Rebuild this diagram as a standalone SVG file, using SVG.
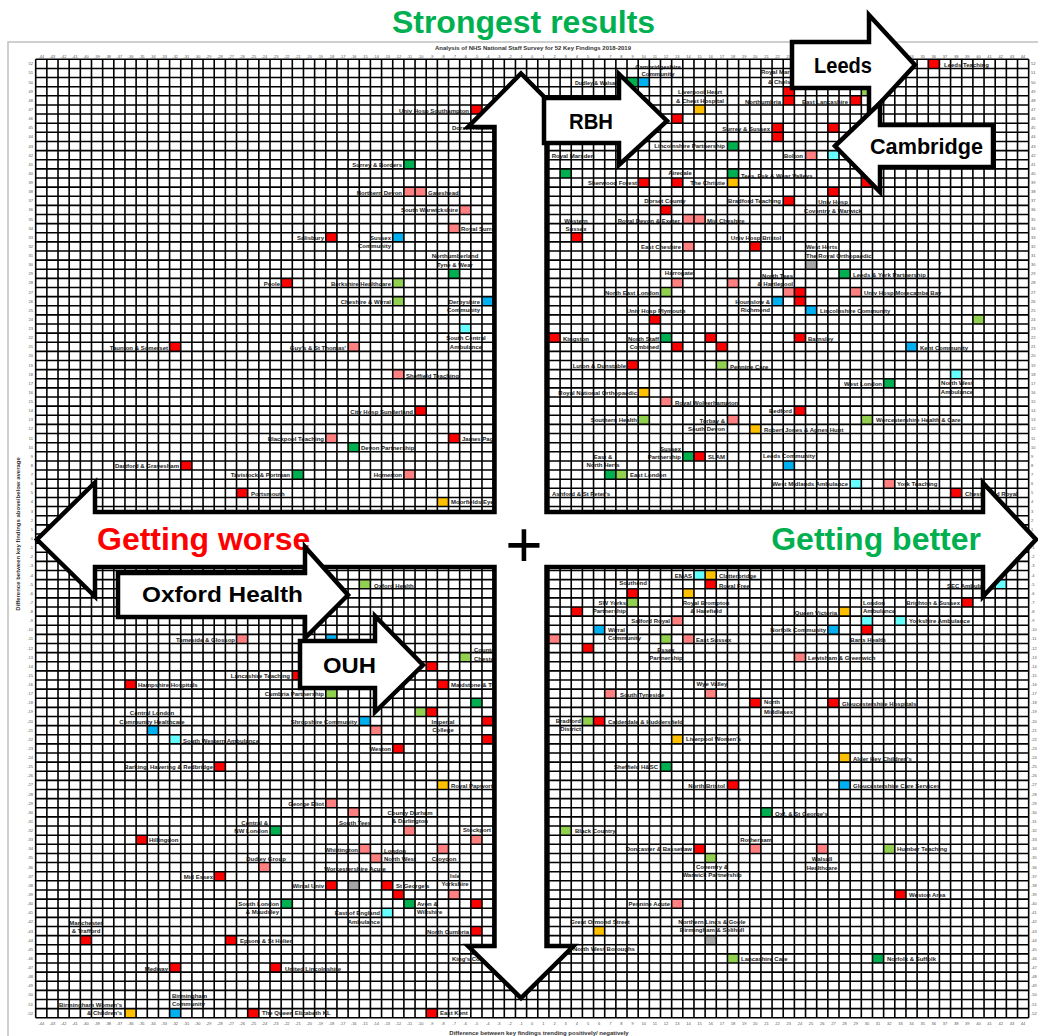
<svg xmlns="http://www.w3.org/2000/svg" width="1038" height="1036" viewBox="0 0 1038 1036">
<style>
.r{fill:#ff0000}.p{fill:#ff8080}.g{fill:#00b050}.lg{fill:#92d050}.b{fill:#00b0f0}.c{fill:#66ffff}.o{fill:#ffc000}.gr{fill:#a6a6a6}
.lb{font-family:"Liberation Sans",Arial,sans-serif;font-size:6px;font-weight:bold;fill:#222}
.e{text-anchor:end}.m{text-anchor:middle}
.tk{font-family:"Liberation Sans",Arial,sans-serif;font-size:4px;fill:#555}
.arr{fill:#fff;stroke:#000;stroke-width:4.5;stroke-linejoin:miter}
.big{font-family:"Liberation Sans",Arial,sans-serif;font-weight:bold;font-size:32px}
.al{font-family:"Liberation Sans",Arial,sans-serif;font-weight:bold;font-size:22px;fill:#000}
.ttl{font-family:"Liberation Sans",Arial,sans-serif;font-weight:bold;font-size:6px;fill:#333}
</style>
<rect width="1038" height="1036" fill="#fff"/>
<path d="M8 1036V42H1038" fill="none" stroke="#c0c0c0" stroke-width="1.5"/>
<text class="big" x="523.5" y="33" text-anchor="middle" fill="#00b050">Strongest results</text>
<text class="ttl" x="533" y="50" text-anchor="middle">Analysis of NHS National Staff Survey for 52 Key Findings 2018-2019</text>
<text class="ttl" x="539" y="1034.5" text-anchor="middle">Difference between key findings trending positively/ negatively</text>
<text class="ttl" transform="translate(20 534) rotate(-90)" text-anchor="middle">Difference between key findings above/below average</text>

<g id="points">
<g id="n1"><rect class="r" x="928.26" y="59.3" width="11.16" height="9.13"/><text class="lb" x="944" y="67">Leeds Teaching</text></g>
<g id="n2"><rect class="g" x="627.02" y="77.56" width="11.16" height="9.13"/><text class="lb e" x="618" y="85" textLength="43" lengthAdjust="spacingAndGlyphs">Dudley &amp; Walsall</text></g>
<g id="n3"><rect class="b" x="638.18" y="77.56" width="11.16" height="9.13"/><text class="lb m" x="658" y="69">Cambridgeshire</text><text class="lb m" x="658" y="76">Community</text></g>
<g id="n4"><rect class="r" x="470.82" y="104.94" width="11.16" height="9.13"/><text class="lb e" x="469" y="113">Univ Hosp Southampton</text></g>
<g id="n4b"><text class="lb" x="452" y="130">Dorset Healthcare</text></g>
<g id="n5"><rect class="r" x="671.65" y="114.07" width="11.16" height="9.13"/><text class="lb e" x="669" y="122">Royal Berkshire</text></g>
<g id="n6"><rect class="o" x="693.96" y="104.94" width="11.16" height="9.13"/><text class="lb m" x="700" y="94">Liverpool Heart</text><text class="lb m" x="700" y="103">&amp; Chest Hospital</text></g>
<g id="n7"><rect class="r" x="783.22" y="86.68" width="11.16" height="9.13"/><text class="lb" x="761" y="74">Royal Marsden</text><text class="lb" x="768" y="84">&amp; Chelsea</text></g>
<g id="n8"><rect class="r" x="783.22" y="95.81" width="11.16" height="9.13"/><text class="lb e" x="781" y="104">Northumbria</text></g>
<g id="n9"><rect class="r" x="850.16" y="95.81" width="11.16" height="9.13"/><text class="lb e" x="848" y="104">East Lancashire</text></g>
<g id="n10"><rect class="lg" x="861.32" y="86.68" width="11.16" height="9.13"/></g>
<g id="n11"><rect class="r" x="772.06" y="123.2" width="11.16" height="9.13"/><text class="lb e" x="770" y="131">Surrey &amp; Sussex</text></g>
<g id="n12"><rect class="r" x="827.85" y="123.2" width="11.16" height="9.13"/></g>
<g id="n13"><rect class="r" x="772.06" y="132.32" width="11.16" height="9.13"/></g>
<g id="n14"><rect class="g" x="727.43" y="141.45" width="11.16" height="9.13"/><text class="lb e" x="725" y="148">Lincolnshire Partnership</text></g>
<g id="n15"><rect class="p" x="805.53" y="150.58" width="11.16" height="9.13"/><text class="lb e" x="803" y="158">Bolton</text></g>
<g id="n16"><rect class="c" x="827.85" y="150.58" width="11.16" height="9.13"/></g>
<g id="n17"><rect class="g" x="727.43" y="168.84" width="11.16" height="9.13"/><text class="lb" x="741" y="178">Tees, Esk &amp; Wear Valleys</text></g>
<g id="n18"><rect class="o" x="727.43" y="177.96" width="11.16" height="9.13"/><text class="lb e" x="725" y="185">The Christie</text></g>
<g id="n19"><rect class="r" x="861.32" y="177.96" width="11.16" height="9.13"/></g>
<g id="n20"><rect class="r" x="827.85" y="187.09" width="11.16" height="9.13"/><text class="lb m" x="833" y="204">Univ Hosp</text><text class="lb m" x="833" y="213">Coventry &amp; Warwick</text></g>
<g id="n21"><rect class="r" x="783.22" y="196.22" width="11.16" height="9.13"/><text class="lb e" x="781" y="203">Bradford Teaching</text></g>
<g id="n22"><rect class="p" x="693.96" y="214.48" width="11.16" height="9.13"/><text class="lb" x="707" y="223">Mid Cheshire</text></g>
<g id="n23"><rect class="p" x="682.81" y="214.48" width="11.16" height="9.13"/><text class="lb e" x="680" y="223">Royal Devon &amp; Exeter</text></g>
<g id="n24"><rect class="r" x="571.24" y="232.73" width="11.16" height="9.13"/><text class="lb m" x="576" y="223">Western</text><text class="lb m" x="576" y="231">Sussex</text></g>
<g id="n25"><rect class="r" x="749.75" y="241.86" width="11.16" height="9.13"/><text class="lb m" x="756" y="240">Univ Hosp Bristol</text></g>
<g id="n26"><rect class="p" x="682.81" y="241.86" width="11.16" height="9.13"/><text class="lb e" x="681" y="249">East Cheshire</text></g>
<g id="n27"><rect class="r" x="660.49" y="205.35" width="11.16" height="9.13"/><text class="lb m" x="665" y="203">Dorset County</text></g>
<g id="n28"><rect class="r" x="638.18" y="177.96" width="11.16" height="9.13"/><text class="lb e" x="637" y="185">Sherwood Forest</text></g>
<g id="n29"><rect class="r" x="671.65" y="177.96" width="11.16" height="9.13"/><text class="lb m" x="680" y="175">Airedale</text></g>
<g id="n30"><rect class="g" x="560.08" y="168.84" width="11.16" height="9.13"/><text class="lb m" x="573" y="158">Royal Marsden</text></g>
<g id="n31"><rect class="g" x="403.88" y="159.71" width="11.16" height="9.13"/><text class="lb e" x="402" y="167">Surrey &amp; Borders</text></g>
<g id="n32"><rect class="p" x="403.88" y="187.09" width="11.16" height="9.13"/><text class="lb e" x="402" y="195">Northern Devon</text></g>
<g id="n33"><rect class="p" x="415.04" y="187.09" width="11.16" height="9.13"/><text class="lb" x="428" y="195">Gateshead</text></g>
<g id="n34"><rect class="p" x="459.67" y="205.35" width="11.16" height="9.13"/><text class="lb e" x="458" y="212">South Warwickshire</text></g>
<g id="n35"><rect class="p" x="448.51" y="223.6" width="11.16" height="9.13"/><text class="lb" x="461" y="231">Royal Surrey</text></g>
<g id="n36"><rect class="b" x="392.72" y="232.73" width="11.16" height="9.13"/><text class="lb e" x="391" y="240">Sussex</text><text class="lb e" x="391" y="248">Community</text></g>
<g id="n37"><rect class="r" x="325.78" y="232.73" width="11.16" height="9.13"/><text class="lb e" x="324" y="240">Salisbury</text></g>
<g id="n38"><rect class="g" x="448.51" y="269.24" width="11.16" height="9.13"/><text class="lb m" x="455" y="258">Northumberland</text><text class="lb m" x="455" y="267">Tyne &amp; Wear</text></g>
<g id="n39"><rect class="r" x="281.15" y="278.37" width="11.16" height="9.13"/><text class="lb e" x="280" y="286">Poole</text></g>
<g id="n40"><rect class="lg" x="392.72" y="278.37" width="11.16" height="9.13"/><text class="lb e" x="391" y="286">Berkshire Healthcare</text></g>
<g id="n41"><rect class="lg" x="392.72" y="296.63" width="11.16" height="9.13"/><text class="lb e" x="391" y="304">Cheshire &amp; Wirral</text></g>
<g id="n42"><rect class="b" x="481.98" y="296.63" width="11.16" height="9.13"/><text class="lb e" x="480" y="304">Derbyshire</text><text class="lb e" x="480" y="312">Community</text></g>
<g id="n43"><rect class="c" x="459.67" y="324.01" width="11.16" height="9.13"/><text class="lb m" x="466" y="340">South Central</text><text class="lb m" x="466" y="349">Ambulance</text></g>
<g id="n44"><rect class="p" x="348.1" y="342.27" width="11.16" height="9.13"/><text class="lb e" x="346" y="350">Guy's &amp; St Thomas'</text></g>
<g id="n45"><rect class="r" x="169.58" y="342.27" width="11.16" height="9.13"/><text class="lb e" x="168" y="350">Taunton &amp; Somerset</text></g>
<g id="n46"><rect class="p" x="392.72" y="369.65" width="11.16" height="9.13"/><text class="lb" x="406" y="378">Sheffield Teaching</text></g>
<g id="n47"><rect class="r" x="415.04" y="406.16" width="11.16" height="9.13"/><text class="lb e" x="413" y="414">City Hosp Sunderland</text></g>
<g id="n48"><rect class="r" x="448.51" y="433.55" width="11.16" height="9.13"/><text class="lb" x="462" y="441">James Paget</text></g>
<g id="n49"><rect class="g" x="348.1" y="442.68" width="11.16" height="9.13"/><text class="lb" x="361" y="450">Devon Partnership</text></g>
<g id="n50"><rect class="p" x="403.88" y="470.06" width="11.16" height="9.13"/><text class="lb e" x="402" y="477">Homerton</text></g>
<g id="n51"><rect class="o" x="437.35" y="497.44" width="11.16" height="9.13"/><text class="lb" x="451" y="504">Moorfields Eye</text></g>
<g id="n52"><rect class="p" x="671.65" y="278.37" width="11.16" height="9.13"/><text class="lb m" x="679" y="275">Harrogate</text></g>
<g id="n53"><rect class="lg" x="660.49" y="287.5" width="11.16" height="9.13"/><text class="lb e" x="659" y="295">North East London</text></g>
<g id="n54"><rect class="r" x="649.34" y="314.88" width="11.16" height="9.13"/><text class="lb m" x="656" y="313">Univ Hosp Plymouth</text></g>
<g id="n55"><rect class="r" x="548.92" y="333.14" width="11.16" height="9.13"/><text class="lb" x="563" y="341">Kingston</text></g>
<g id="n56"><rect class="g" x="660.49" y="333.14" width="11.16" height="9.13"/><text class="lb e" x="659" y="341">North Staff</text><text class="lb e" x="659" y="349">Combined</text></g>
<g id="n57"><rect class="r" x="671.65" y="342.27" width="11.16" height="9.13"/></g>
<g id="n58"><rect class="r" x="627.02" y="360.52" width="11.16" height="9.13"/><text class="lb e" x="626" y="368">Luton &amp; Dunstable</text></g>
<g id="n59"><rect class="o" x="638.18" y="387.91" width="11.16" height="9.13"/><text class="lb e" x="637" y="395">Royal National Orthopaedic</text></g>
<g id="n60"><rect class="p" x="660.49" y="397.04" width="11.16" height="9.13"/><text class="lb" x="675" y="405">Royal Wolverhampton</text></g>
<g id="n61"><rect class="lg" x="638.18" y="415.29" width="11.16" height="9.13"/><text class="lb e" x="637" y="422">Southern Health</text></g>
<g id="n62"><rect class="g" x="682.81" y="451.8" width="11.16" height="9.13"/><text class="lb e" x="681" y="451">Sussex</text><text class="lb e" x="681" y="459">Partnership</text></g>
<g id="n63"><rect class="r" x="693.96" y="451.8" width="11.16" height="9.13"/><text class="lb" x="708" y="459">SLAM</text></g>
<g id="n64"><rect class="g" x="604.71" y="470.06" width="11.16" height="9.13"/><text class="lb m" x="603" y="459">East &amp;</text><text class="lb m" x="603" y="467">North Herts</text></g>
<g id="n65"><rect class="lg" x="615.86" y="470.06" width="11.16" height="9.13"/><text class="lb" x="630" y="477">East London</text></g>
<g id="n65b"><text class="lb" x="552" y="496">Ashford &amp; St Peter's</text></g>
<g id="n66"><rect class="gr" x="805.53" y="260.12" width="11.16" height="9.13"/><text class="lb" x="806" y="249">West Herts</text><text class="lb" x="806" y="258">The Royal Orthopaedic</text></g>
<g id="n67"><rect class="g" x="839" y="269.24" width="11.16" height="9.13"/><text class="lb" x="853" y="277">Leeds &amp; York Partnership</text></g>
<g id="n68"><rect class="p" x="727.43" y="278.37" width="11.16" height="9.13"/></g>
<g id="n69"><rect class="p" x="783.22" y="287.5" width="11.16" height="9.13"/><text class="lb e" x="793" y="278">North Tees</text><text class="lb e" x="793" y="286">&amp; Hartlepool</text></g>
<g id="n70"><rect class="r" x="794.38" y="287.5" width="11.16" height="9.13"/></g>
<g id="n71"><rect class="p" x="850.16" y="287.5" width="11.16" height="9.13"/><text class="lb" x="864" y="295">Univ Hosp Morecambe Bay</text></g>
<g id="n72"><rect class="b" x="772.06" y="296.63" width="11.16" height="9.13"/><text class="lb e" x="770" y="304">Hounslow &amp;</text><text class="lb e" x="770" y="312">Richmond</text></g>
<g id="n73"><rect class="r" x="794.38" y="296.63" width="11.16" height="9.13"/></g>
<g id="n74"><rect class="b" x="805.53" y="305.76" width="11.16" height="9.13"/><text class="lb" x="820" y="313">Lincolnshire Community</text></g>
<g id="n75"><rect class="lg" x="972.89" y="314.88" width="11.16" height="9.13"/></g>
<g id="n76"><rect class="r" x="705.12" y="333.14" width="11.16" height="9.13"/></g>
<g id="n77"><rect class="r" x="794.38" y="333.14" width="11.16" height="9.13"/><text class="lb" x="808" y="341">Barnsley</text></g>
<g id="n78"><rect class="b" x="905.95" y="342.27" width="11.16" height="9.13"/><text class="lb" x="920" y="350">Kent Community</text></g>
<g id="n79"><rect class="r" x="716.28" y="342.27" width="11.16" height="9.13"/></g>
<g id="n80"><rect class="lg" x="716.28" y="360.52" width="11.16" height="9.13"/><text class="lb" x="730" y="369">Pennine Care</text></g>
<g id="n81"><rect class="c" x="950.57" y="369.65" width="11.16" height="9.13"/><text class="lb m" x="957" y="385">North West</text><text class="lb m" x="957" y="394">Ambulance</text></g>
<g id="n82"><rect class="g" x="883.63" y="378.78" width="11.16" height="9.13"/><text class="lb e" x="882" y="386">West London</text></g>
<g id="n83"><rect class="r" x="794.38" y="406.16" width="11.16" height="9.13"/><text class="lb e" x="792" y="413">Bedford</text></g>
<g id="n84"><rect class="lg" x="861.32" y="415.29" width="11.16" height="9.13"/><text class="lb" x="876" y="422">Worcestershire Health &amp; Care</text></g>
<g id="n85"><rect class="p" x="727.43" y="415.29" width="11.16" height="9.13"/><text class="lb e" x="725" y="423">Torbay &amp;</text><text class="lb e" x="725" y="431">South Devon</text></g>
<g id="n86"><rect class="o" x="749.75" y="424.42" width="11.16" height="9.13"/><text class="lb" x="764" y="432">Robert Jones &amp; Agnes Hunt</text></g>
<g id="n87"><rect class="b" x="783.22" y="460.93" width="11.16" height="9.13"/><text class="lb m" x="789" y="458">Leeds Community</text></g>
<g id="n88"><rect class="c" x="850.16" y="479.19" width="11.16" height="9.13"/><text class="lb e" x="848" y="486">West Midlands Ambulance</text></g>
<g id="n89"><rect class="p" x="883.63" y="479.19" width="11.16" height="9.13"/><text class="lb" x="897" y="486">York Teaching</text></g>
<g id="n90"><rect class="r" x="950.57" y="488.32" width="11.16" height="9.13"/><text class="lb" x="965" y="496">Chesterfield Royal</text></g>
<g id="n91"><rect class="p" x="325.78" y="433.55" width="11.16" height="9.13"/><text class="lb e" x="324" y="441">Blackpool Teaching</text></g>
<g id="n92"><rect class="r" x="180.74" y="460.93" width="11.16" height="9.13"/><text class="lb e" x="179" y="468">Dartford &amp; Gravesham</text></g>
<g id="n93"><rect class="g" x="292.31" y="470.06" width="11.16" height="9.13"/><text class="lb e" x="290" y="477">Tavistock &amp; Portman</text></g>
<g id="n94"><rect class="r" x="236.53" y="488.32" width="11.16" height="9.13"/><text class="lb" x="251" y="496">Portsmouth</text></g>
<g id="n95"><rect class="p" x="236.53" y="634.36" width="11.16" height="9.13"/><text class="lb e" x="235" y="642">Tameside &amp; Glossop</text></g>
<g id="n96"><rect class="r" x="292.31" y="670.88" width="11.16" height="9.13"/><text class="lb e" x="290" y="678">Lancashire Teaching</text></g>
<g id="n97"><rect class="lg" x="325.78" y="689.13" width="11.16" height="9.13"/><text class="lb e" x="324" y="696">Cumbria Partnership</text></g>
<g id="n98"><rect class="r" x="124.96" y="680" width="11.16" height="9.13"/><text class="lb" x="138" y="687">Hampshire Hospitals</text></g>
<g id="n99"><rect class="b" x="147.27" y="725.64" width="11.16" height="9.13"/><text class="lb m" x="152" y="715">Central London</text><text class="lb m" x="152" y="724">Community Healthcare</text></g>
<g id="n100"><rect class="lg" x="359.25" y="579.6" width="11.16" height="9.13"/><text class="lb" x="374" y="588">Oxford Health</text></g>
<g id="n101"><rect class="b" x="325.78" y="634.36" width="11.16" height="9.13"/></g>
<g id="n102"><rect class="b" x="359.25" y="716.52" width="11.16" height="9.13"/><text class="lb e" x="357" y="724">Shropshire Community</text></g>
<g id="n103"><rect class="c" x="169.58" y="734.77" width="11.16" height="9.13"/><text class="lb" x="183" y="743">South Western Ambulance</text></g>
<g id="n104"><rect class="r" x="214.21" y="762.16" width="11.16" height="9.13"/><text class="lb e" x="213" y="769">Barking, Havering &amp; Redbridge</text></g>
<g id="n105"><rect class="r" x="426.2" y="661.75" width="11.16" height="9.13"/></g>
<g id="n106"><rect class="lg" x="459.67" y="652.62" width="11.16" height="9.13"/><text class="lb" x="474" y="652">Countess of</text><text class="lb" x="474" y="661">Chester</text></g>
<g id="n107"><rect class="r" x="437.35" y="680" width="11.16" height="9.13"/><text class="lb" x="451" y="687">Maidstone &amp; Tunbridge Wells</text></g>
<g id="n108"><rect class="lg" x="415.04" y="707.39" width="11.16" height="9.13"/></g>
<g id="n109"><rect class="r" x="426.2" y="707.39" width="11.16" height="9.13"/><text class="lb m" x="443" y="724">Imperial</text><text class="lb m" x="443" y="732">College</text></g>
<g id="n110"><rect class="g" x="470.82" y="698.26" width="11.16" height="9.13"/></g>
<g id="n111"><rect class="r" x="481.98" y="716.52" width="11.16" height="9.13"/></g>
<g id="n112"><rect class="p" x="370.41" y="725.64" width="11.16" height="9.13"/></g>
<g id="n113"><rect class="r" x="392.72" y="743.9" width="11.16" height="9.13"/><text class="lb e" x="391" y="751">Weston</text></g>
<g id="n114"><rect class="r" x="481.98" y="734.77" width="11.16" height="9.13"/></g>
<g id="n115"><rect class="r" x="627.02" y="588.72" width="11.16" height="9.13"/><text class="lb m" x="633" y="585">Southend</text></g>
<g id="n116"><rect class="lg" x="627.02" y="597.85" width="11.16" height="9.13"/><text class="lb e" x="626" y="605">SW Yorks</text><text class="lb e" x="626" y="613">Partnership</text></g>
<g id="n117"><rect class="r" x="571.24" y="606.98" width="11.16" height="9.13"/></g>
<g id="n118"><rect class="p" x="671.65" y="616.11" width="11.16" height="9.13"/><text class="lb e" x="670" y="623">Salford Royal</text></g>
<g id="n119"><rect class="b" x="593.55" y="625.24" width="11.16" height="9.13"/><text class="lb" x="608" y="632">Wirral</text><text class="lb" x="608" y="640">Community</text></g>
<g id="n120"><rect class="p" x="548.92" y="634.36" width="11.16" height="9.13"/></g>
<g id="n121"><rect class="lg" x="660.49" y="634.36" width="11.16" height="9.13"/><text class="lb m" x="666" y="652">Essex</text><text class="lb m" x="666" y="660">Partnership</text></g>
<g id="n122"><rect class="p" x="682.81" y="634.36" width="11.16" height="9.13"/><text class="lb" x="696" y="642">East Sussex</text></g>
<g id="n123"><rect class="r" x="582.39" y="643.49" width="11.16" height="9.13"/></g>
<g id="n124"><rect class="p" x="604.71" y="689.13" width="11.16" height="9.13"/><text class="lb" x="620" y="697">South Tyneside</text></g>
<g id="n125"><rect class="lg" x="582.39" y="716.52" width="11.16" height="9.13"/><text class="lb e" x="581" y="723">Bradford</text><text class="lb e" x="581" y="731">District</text></g>
<g id="n126"><rect class="r" x="593.55" y="716.52" width="11.16" height="9.13"/><text class="lb" x="608" y="724">Calderdale &amp; Huddersfield</text></g>
<g id="n127"><rect class="o" x="671.65" y="734.77" width="11.16" height="9.13"/><text class="lb" x="686" y="741">Liverpool Women's</text></g>
<g id="n128"><rect class="g" x="660.49" y="762.16" width="11.16" height="9.13"/><text class="lb e" x="658" y="769">Sheffield H&amp;SC</text></g>
<g id="n129"><rect class="c" x="693.96" y="570.47" width="11.16" height="9.13"/><text class="lb e" x="692" y="578">EMAS</text></g>
<g id="n130"><rect class="o" x="705.12" y="570.47" width="11.16" height="9.13"/><text class="lb" x="719" y="578">Clatterbridge</text></g>
<g id="n131"><rect class="r" x="705.12" y="579.6" width="11.16" height="9.13"/><text class="lb" x="719" y="588">Royal Free</text></g>
<g id="n132"><rect class="o" x="682.81" y="588.72" width="11.16" height="9.13"/><text class="lb m" x="706" y="605">Royal Brompton</text><text class="lb m" x="706" y="613">&amp; Harefield</text></g>
<g id="n133"><rect class="o" x="839" y="606.98" width="11.16" height="9.13"/><text class="lb e" x="837" y="615">Queen Victoria</text></g>
<g id="n134"><rect class="c" x="861.32" y="616.11" width="11.16" height="9.13"/><text class="lb" x="863" y="605">London</text><text class="lb" x="863" y="613">Ambulance</text></g>
<g id="n135"><rect class="r" x="861.32" y="625.24" width="11.16" height="9.13"/><text class="lb m" x="868" y="642">Barts Health</text></g>
<g id="n136"><rect class="c" x="894.79" y="616.11" width="11.16" height="9.13"/><text class="lb" x="909" y="623">Yorkshire Ambulance</text></g>
<g id="n137"><rect class="r" x="961.73" y="597.85" width="11.16" height="9.13"/><text class="lb e" x="960" y="605">Brighton &amp; Sussex</text></g>
<g id="n138"><rect class="c" x="995.2" y="579.6" width="11.16" height="9.13"/><text class="lb e" x="993" y="588">SEC Ambulance</text></g>
<g id="n139"><rect class="b" x="827.85" y="625.24" width="11.16" height="9.13"/><text class="lb e" x="826" y="632">Norfolk Community</text></g>
<g id="n140"><rect class="p" x="794.38" y="652.62" width="11.16" height="9.13"/><text class="lb" x="808" y="660">Lewisham &amp; Greenwich</text></g>
<g id="n141"><rect class="p" x="705.12" y="689.13" width="11.16" height="9.13"/><text class="lb m" x="712" y="686">Wye Valley</text></g>
<g id="n142"><rect class="r" x="749.75" y="698.26" width="11.16" height="9.13"/><text class="lb" x="764" y="704">North</text><text class="lb" x="764" y="714">Middlesex</text></g>
<g id="n143"><rect class="r" x="827.85" y="698.26" width="11.16" height="9.13"/><text class="lb" x="842" y="706">Gloucestershire Hospitals</text></g>
<g id="n144"><rect class="o" x="839" y="753.03" width="11.16" height="9.13"/><text class="lb" x="853" y="761">Alder Hey Children's</text></g>
<g id="n145"><rect class="r" x="727.43" y="780.41" width="11.16" height="9.13"/><text class="lb e" x="725" y="788">North Bristol</text></g>
<g id="n146"><rect class="b" x="839" y="780.41" width="11.16" height="9.13"/><text class="lb" x="853" y="788">Gloucestershire Care Services</text></g>
<g id="n147"><rect class="g" x="760.91" y="807.8" width="11.16" height="9.13"/><text class="lb" x="775" y="816">Oxf. &amp; St George's</text></g>
<g id="n148"><rect class="p" x="749.75" y="844.31" width="11.16" height="9.13"/><text class="lb m" x="756" y="842">Rotherham</text></g>
<g id="n149"><rect class="r" x="693.96" y="844.31" width="11.16" height="9.13"/><text class="lb e" x="692" y="851">Doncaster &amp; Bassetlaw</text></g>
<g id="n150"><rect class="lg" x="705.12" y="853.44" width="11.16" height="9.13"/><text class="lb m" x="712" y="869">Coventry &amp;</text><text class="lb m" x="712" y="877">Warwick Partnership</text></g>
<g id="n151"><rect class="p" x="816.69" y="844.31" width="11.16" height="9.13"/><text class="lb m" x="822" y="861">Walsall</text><text class="lb m" x="822" y="870">Healthcare</text></g>
<g id="n152"><rect class="lg" x="883.63" y="844.31" width="11.16" height="9.13"/><text class="lb" x="897" y="851">Humber Teaching</text></g>
<g id="n153"><rect class="r" x="894.79" y="889.95" width="11.16" height="9.13"/><text class="lb" x="909" y="897">Weston Area</text></g>
<g id="n154"><rect class="gr" x="705.12" y="935.59" width="11.16" height="9.13"/><text class="lb m" x="712" y="924">Northern Lincs &amp; Goole</text><text class="lb m" x="712" y="932">Birmingham &amp; Solihull</text></g>
<g id="n155"><rect class="lg" x="727.43" y="953.84" width="11.16" height="9.13"/><text class="lb" x="741" y="961">Lancashire Care</text></g>
<g id="n156"><rect class="g" x="872.48" y="953.84" width="11.16" height="9.13"/><text class="lb" x="887" y="961">Norfolk &amp; Suffolk</text></g>
<g id="n157"><rect class="o" x="437.35" y="780.41" width="11.16" height="9.13"/><text class="lb" x="451" y="788">Royal Papworth</text></g>
<g id="n158"><rect class="p" x="348.1" y="807.8" width="11.16" height="9.13"/><text class="lb m" x="355" y="825">South Tees</text></g>
<g id="n159"><rect class="p" x="403.88" y="826.05" width="11.16" height="9.13"/><text class="lb m" x="410" y="815">County Durham</text><text class="lb m" x="410" y="823">&amp; Darlington</text></g>
<g id="n160"><rect class="p" x="470.82" y="835.18" width="11.16" height="9.13"/><text class="lb m" x="477" y="832">Stockport</text></g>
<g id="n161"><rect class="lg" x="560.08" y="826.05" width="11.16" height="9.13"/><text class="lb" x="575" y="833">Black Country</text></g>
<g id="n162"><rect class="p" x="359.25" y="844.31" width="11.16" height="9.13"/><text class="lb e" x="358" y="852">Whittington</text></g>
<g id="n163"><rect class="p" x="370.41" y="853.44" width="11.16" height="9.13"/><text class="lb" x="384" y="853">London</text><text class="lb" x="384" y="861">North West</text></g>
<g id="n164"><rect class="p" x="437.35" y="844.31" width="11.16" height="9.13"/><text class="lb m" x="444" y="861">Croydon</text></g>
<g id="n165"><rect class="gr" x="348.1" y="880.82" width="11.16" height="9.13"/><text class="lb m" x="355" y="871">Worcestershire Acute</text></g>
<g id="n166"><rect class="r" x="381.57" y="880.82" width="11.16" height="9.13"/><text class="lb" x="396" y="888">St George's</text></g>
<g id="n167"><rect class="p" x="448.51" y="889.95" width="11.16" height="9.13"/><text class="lb m" x="455" y="878">Isle</text><text class="lb m" x="455" y="886">Yorkshire</text></g>
<g id="n168"><rect class="r" x="392.72" y="889.95" width="11.16" height="9.13"/></g>
<g id="n169"><rect class="g" x="403.88" y="899.08" width="11.16" height="9.13"/><text class="lb" x="417" y="906">Avon &amp;</text><text class="lb" x="417" y="914">Wiltshire</text></g>
<g id="n170"><rect class="c" x="381.57" y="908.2" width="11.16" height="9.13"/><text class="lb e" x="380" y="915">East of England</text><text class="lb e" x="380" y="924">Ambulance</text></g>
<g id="n171"><rect class="r" x="470.82" y="899.08" width="11.16" height="9.13"/></g>
<g id="n172"><rect class="r" x="470.82" y="926.46" width="11.16" height="9.13"/><text class="lb e" x="469" y="934">North Cumbria</text></g>
<g id="n172b"><text class="lb" x="452" y="961">King's College</text></g>
<g id="n173"><rect class="r" x="426.2" y="1008.61" width="11.16" height="9.13"/><text class="lb" x="440" y="1015">East Kent</text></g>
<g id="n174"><rect class="p" x="671.65" y="899.08" width="11.16" height="9.13"/><text class="lb e" x="670" y="906">Pennine Acute</text></g>
<g id="n175"><rect class="o" x="593.55" y="926.46" width="11.16" height="9.13"/><text class="lb m" x="600" y="924">Great Ormond Street</text></g>
<g id="n176"><rect class="lg" x="560.08" y="944.72" width="11.16" height="9.13"/><text class="lb" x="573" y="951">North West Boroughs</text></g>
<g id="n177"><rect class="p" x="325.78" y="798.67" width="11.16" height="9.13"/><text class="lb e" x="324" y="806">George Eliot</text></g>
<g id="n178"><rect class="g" x="270" y="826.05" width="11.16" height="9.13"/><text class="lb e" x="268" y="825">Central &amp;</text><text class="lb e" x="268" y="833">NW London</text></g>
<g id="n179"><rect class="r" x="136.11" y="835.18" width="11.16" height="9.13"/><text class="lb" x="149" y="842">Hillingdon</text></g>
<g id="n180"><rect class="p" x="258.84" y="862.56" width="11.16" height="9.13"/><text class="lb m" x="266" y="861">Dudley Group</text></g>
<g id="n181"><rect class="r" x="214.21" y="871.69" width="11.16" height="9.13"/><text class="lb e" x="213" y="879">Mid Essex</text></g>
<g id="n182"><rect class="r" x="325.78" y="880.82" width="11.16" height="9.13"/><text class="lb e" x="324" y="888">Wirral Univ</text></g>
<g id="n183"><rect class="g" x="281.15" y="899.08" width="11.16" height="9.13"/><text class="lb e" x="279" y="906">South London</text><text class="lb e" x="279" y="914">&amp; Maudsley</text></g>
<g id="n184"><rect class="r" x="80.33" y="935.59" width="11.16" height="9.13"/><text class="lb m" x="86" y="925">Manchester</text><text class="lb m" x="86" y="933">&amp; Trafford</text></g>
<g id="n185"><rect class="r" x="225.37" y="935.59" width="11.16" height="9.13"/><text class="lb" x="240" y="943">Epsom &amp; St Helier</text></g>
<g id="n186"><rect class="r" x="169.58" y="962.97" width="11.16" height="9.13"/><text class="lb e" x="168" y="971">Medway</text></g>
<g id="n187"><rect class="r" x="270" y="962.97" width="11.16" height="9.13"/><text class="lb" x="285" y="971">United Lincolnshire</text></g>
<g id="n188"><rect class="o" x="124.96" y="1008.61" width="11.16" height="9.13"/><text class="lb e" x="122" y="1007">Birmingham Women's</text><text class="lb e" x="122" y="1015">&amp; Children's</text></g>
<g id="n189"><rect class="b" x="169.58" y="1008.61" width="11.16" height="9.13"/><text class="lb" x="172" y="998">Birmingham</text><text class="lb" x="172" y="1006">Community</text></g>
<g id="n190"><rect class="r" x="247.68" y="1008.61" width="11.16" height="9.13"/><text class="lb" x="262" y="1015">The Queen Elizabeth KL</text></g>
</g>

<g id="grid" transform="translate(35.7 59.3) scale(11.157 9.128)" fill="none" stroke="#000" stroke-width="1.6">
<path vector-effect="non-scaling-stroke" d="M0 0V105M1 0V105M2 0V105M3 0V105M4 0V105M5 0V105M6 0V105M7 0V105M8 0V105M9 0V105M10 0V105M11 0V105M12 0V105M13 0V105M14 0V105M15 0V105M16 0V105M17 0V105M18 0V105M19 0V105M20 0V105M21 0V105M22 0V105M23 0V105M24 0V105M25 0V105M26 0V105M27 0V105M28 0V105M29 0V105M30 0V105M31 0V105M32 0V105M33 0V105M34 0V105M35 0V105M36 0V105M37 0V105M38 0V105M39 0V105M40 0V105M41 0V105M42 0V105M43 0V105M44 0V105M45 0V105M46 0V105M47 0V105M48 0V105M49 0V105M50 0V105M51 0V105M52 0V105M53 0V105M54 0V105M55 0V105M56 0V105M57 0V105M58 0V105M59 0V105M60 0V105M61 0V105M62 0V105M63 0V105M64 0V105M65 0V105M66 0V105M67 0V105M68 0V105M69 0V105M70 0V105M71 0V105M72 0V105M73 0V105M74 0V105M75 0V105M76 0V105M77 0V105M78 0V105M79 0V105M80 0V105M81 0V105M82 0V105M83 0V105M84 0V105M85 0V105M86 0V105M87 0V105M88 0V105M89 0V105"/>
<path vector-effect="non-scaling-stroke" d="M0 0H89M0 1H89M0 2H89M0 3H89M0 4H89M0 5H89M0 6H89M0 7H89M0 8H89M0 9H89M0 10H89M0 11H89M0 12H89M0 13H89M0 14H89M0 15H89M0 16H89M0 17H89M0 18H89M0 19H89M0 20H89M0 21H89M0 22H89M0 23H89M0 24H89M0 25H89M0 26H89M0 27H89M0 28H89M0 29H89M0 30H89M0 31H89M0 32H89M0 33H89M0 34H89M0 35H89M0 36H89M0 37H89M0 38H89M0 39H89M0 40H89M0 41H89M0 42H89M0 43H89M0 44H89M0 45H89M0 46H89M0 47H89M0 48H89M0 49H89M0 50H89M0 51H89M0 52H89M0 53H89M0 54H89M0 55H89M0 56H89M0 57H89M0 58H89M0 59H89M0 60H89M0 61H89M0 62H89M0 63H89M0 64H89M0 65H89M0 66H89M0 67H89M0 68H89M0 69H89M0 70H89M0 71H89M0 72H89M0 73H89M0 74H89M0 75H89M0 76H89M0 77H89M0 78H89M0 79H89M0 80H89M0 81H89M0 82H89M0 83H89M0 84H89M0 85H89M0 86H89M0 87H89M0 88H89M0 89H89M0 90H89M0 91H89M0 92H89M0 93H89M0 94H89M0 95H89M0 96H89M0 97H89M0 98H89M0 99H89M0 100H89M0 101H89M0 102H89M0 103H89M0 104H89M0 105H89"/>
</g>

<g id="ticks" class="tk">
<text text-anchor="middle" y="57.5"><tspan x="41.3">-44</tspan><tspan x="52.4">-43</tspan><tspan x="63.6">-42</tspan><tspan x="74.8">-41</tspan><tspan x="85.9">-40</tspan><tspan x="97.1">-39</tspan><tspan x="108.2">-38</tspan><tspan x="119.4">-37</tspan><tspan x="130.5">-36</tspan><tspan x="141.7">-35</tspan><tspan x="152.9">-34</tspan><tspan x="164">-33</tspan><tspan x="175.2">-32</tspan><tspan x="186.3">-31</tspan><tspan x="197.5">-30</tspan><tspan x="208.6">-29</tspan><tspan x="219.8">-28</tspan><tspan x="231">-27</tspan><tspan x="242.1">-26</tspan><tspan x="253.3">-25</tspan><tspan x="264.4">-24</tspan><tspan x="275.6">-23</tspan><tspan x="286.7">-22</tspan><tspan x="297.9">-21</tspan><tspan x="309.1">-20</tspan><tspan x="320.2">-19</tspan><tspan x="331.4">-18</tspan><tspan x="342.5">-17</tspan><tspan x="353.7">-16</tspan><tspan x="364.8">-15</tspan><tspan x="376">-14</tspan><tspan x="387.2">-13</tspan><tspan x="398.3">-12</tspan><tspan x="409.5">-11</tspan><tspan x="420.6">-10</tspan><tspan x="431.8">-9</tspan><tspan x="442.9">-8</tspan><tspan x="454.1">-7</tspan><tspan x="465.3">-6</tspan><tspan x="476.4">-5</tspan><tspan x="487.6">-4</tspan><tspan x="498.7">-3</tspan><tspan x="509.9">-2</tspan><tspan x="521">-1</tspan><tspan x="532.2">0</tspan><tspan x="543.4">1</tspan><tspan x="554.5">2</tspan><tspan x="565.7">3</tspan><tspan x="576.8">4</tspan><tspan x="588">5</tspan><tspan x="599.1">6</tspan><tspan x="610.3">7</tspan><tspan x="621.4">8</tspan><tspan x="632.6">9</tspan><tspan x="643.8">10</tspan><tspan x="654.9">11</tspan><tspan x="666.1">12</tspan><tspan x="677.2">13</tspan><tspan x="688.4">14</tspan><tspan x="699.5">15</tspan><tspan x="710.7">16</tspan><tspan x="721.9">17</tspan><tspan x="733">18</tspan><tspan x="744.2">19</tspan><tspan x="755.3">20</tspan><tspan x="766.5">21</tspan><tspan x="777.6">22</tspan><tspan x="788.8">23</tspan><tspan x="800">24</tspan><tspan x="811.1">25</tspan><tspan x="822.3">26</tspan><tspan x="833.4">27</tspan><tspan x="844.6">28</tspan><tspan x="855.7">29</tspan><tspan x="866.9">30</tspan><tspan x="878.1">31</tspan><tspan x="889.2">32</tspan><tspan x="900.4">33</tspan><tspan x="911.5">34</tspan><tspan x="922.7">35</tspan><tspan x="933.8">36</tspan><tspan x="945">37</tspan><tspan x="956.2">38</tspan><tspan x="967.3">39</tspan><tspan x="978.5">40</tspan><tspan x="989.6">41</tspan><tspan x="1000.8">42</tspan><tspan x="1011.9">43</tspan><tspan x="1023.1">44</tspan></text>
<text text-anchor="middle" y="1024.5"><tspan x="41.3">-44</tspan><tspan x="52.4">-43</tspan><tspan x="63.6">-42</tspan><tspan x="74.8">-41</tspan><tspan x="85.9">-40</tspan><tspan x="97.1">-39</tspan><tspan x="108.2">-38</tspan><tspan x="119.4">-37</tspan><tspan x="130.5">-36</tspan><tspan x="141.7">-35</tspan><tspan x="152.9">-34</tspan><tspan x="164">-33</tspan><tspan x="175.2">-32</tspan><tspan x="186.3">-31</tspan><tspan x="197.5">-30</tspan><tspan x="208.6">-29</tspan><tspan x="219.8">-28</tspan><tspan x="231">-27</tspan><tspan x="242.1">-26</tspan><tspan x="253.3">-25</tspan><tspan x="264.4">-24</tspan><tspan x="275.6">-23</tspan><tspan x="286.7">-22</tspan><tspan x="297.9">-21</tspan><tspan x="309.1">-20</tspan><tspan x="320.2">-19</tspan><tspan x="331.4">-18</tspan><tspan x="342.5">-17</tspan><tspan x="353.7">-16</tspan><tspan x="364.8">-15</tspan><tspan x="376">-14</tspan><tspan x="387.2">-13</tspan><tspan x="398.3">-12</tspan><tspan x="409.5">-11</tspan><tspan x="420.6">-10</tspan><tspan x="431.8">-9</tspan><tspan x="442.9">-8</tspan><tspan x="454.1">-7</tspan><tspan x="465.3">-6</tspan><tspan x="476.4">-5</tspan><tspan x="487.6">-4</tspan><tspan x="498.7">-3</tspan><tspan x="509.9">-2</tspan><tspan x="521">-1</tspan><tspan x="532.2">0</tspan><tspan x="543.4">1</tspan><tspan x="554.5">2</tspan><tspan x="565.7">3</tspan><tspan x="576.8">4</tspan><tspan x="588">5</tspan><tspan x="599.1">6</tspan><tspan x="610.3">7</tspan><tspan x="621.4">8</tspan><tspan x="632.6">9</tspan><tspan x="643.8">10</tspan><tspan x="654.9">11</tspan><tspan x="666.1">12</tspan><tspan x="677.2">13</tspan><tspan x="688.4">14</tspan><tspan x="699.5">15</tspan><tspan x="710.7">16</tspan><tspan x="721.9">17</tspan><tspan x="733">18</tspan><tspan x="744.2">19</tspan><tspan x="755.3">20</tspan><tspan x="766.5">21</tspan><tspan x="777.6">22</tspan><tspan x="788.8">23</tspan><tspan x="800">24</tspan><tspan x="811.1">25</tspan><tspan x="822.3">26</tspan><tspan x="833.4">27</tspan><tspan x="844.6">28</tspan><tspan x="855.7">29</tspan><tspan x="866.9">30</tspan><tspan x="878.1">31</tspan><tspan x="889.2">32</tspan><tspan x="900.4">33</tspan><tspan x="911.5">34</tspan><tspan x="922.7">35</tspan><tspan x="933.8">36</tspan><tspan x="945">37</tspan><tspan x="956.2">38</tspan><tspan x="967.3">39</tspan><tspan x="978.5">40</tspan><tspan x="989.6">41</tspan><tspan x="1000.8">42</tspan><tspan x="1011.9">43</tspan><tspan x="1023.1">44</tspan></text>
<text text-anchor="end"><tspan x="33" y="65.3">52</tspan><tspan x="33" y="74.4">51</tspan><tspan x="33" y="83.6">50</tspan><tspan x="33" y="92.7">49</tspan><tspan x="33" y="101.8">48</tspan><tspan x="33" y="110.9">47</tspan><tspan x="33" y="120.1">46</tspan><tspan x="33" y="129.2">45</tspan><tspan x="33" y="138.3">44</tspan><tspan x="33" y="147.5">43</tspan><tspan x="33" y="156.6">42</tspan><tspan x="33" y="165.7">41</tspan><tspan x="33" y="174.8">40</tspan><tspan x="33" y="184">39</tspan><tspan x="33" y="193.1">38</tspan><tspan x="33" y="202.2">37</tspan><tspan x="33" y="211.4">36</tspan><tspan x="33" y="220.5">35</tspan><tspan x="33" y="229.6">34</tspan><tspan x="33" y="238.7">33</tspan><tspan x="33" y="247.9">32</tspan><tspan x="33" y="257">31</tspan><tspan x="33" y="266.1">30</tspan><tspan x="33" y="275.2">29</tspan><tspan x="33" y="284.4">28</tspan><tspan x="33" y="293.5">27</tspan><tspan x="33" y="302.6">26</tspan><tspan x="33" y="311.8">25</tspan><tspan x="33" y="320.9">24</tspan><tspan x="33" y="330">23</tspan><tspan x="33" y="339.1">22</tspan><tspan x="33" y="348.3">21</tspan><tspan x="33" y="357.4">20</tspan><tspan x="33" y="366.5">19</tspan><tspan x="33" y="375.7">18</tspan><tspan x="33" y="384.8">17</tspan><tspan x="33" y="393.9">16</tspan><tspan x="33" y="403">15</tspan><tspan x="33" y="412.2">14</tspan><tspan x="33" y="421.3">13</tspan><tspan x="33" y="430.4">12</tspan><tspan x="33" y="439.6">11</tspan><tspan x="33" y="448.7">10</tspan><tspan x="33" y="457.8">9</tspan><tspan x="33" y="466.9">8</tspan><tspan x="33" y="476.1">7</tspan><tspan x="33" y="485.2">6</tspan><tspan x="33" y="494.3">5</tspan><tspan x="33" y="503.4">4</tspan><tspan x="33" y="512.6">3</tspan><tspan x="33" y="521.7">2</tspan><tspan x="33" y="530.8">1</tspan><tspan x="33" y="540">0</tspan><tspan x="33" y="549.1">-1</tspan><tspan x="33" y="558.2">-2</tspan><tspan x="33" y="567.3">-3</tspan><tspan x="33" y="576.5">-4</tspan><tspan x="33" y="585.6">-5</tspan><tspan x="33" y="594.7">-6</tspan><tspan x="33" y="603.9">-7</tspan><tspan x="33" y="613">-8</tspan><tspan x="33" y="622.1">-9</tspan><tspan x="33" y="631.2">-10</tspan><tspan x="33" y="640.4">-11</tspan><tspan x="33" y="649.5">-12</tspan><tspan x="33" y="658.6">-13</tspan><tspan x="33" y="667.7">-14</tspan><tspan x="33" y="676.9">-15</tspan><tspan x="33" y="686">-16</tspan><tspan x="33" y="695.1">-17</tspan><tspan x="33" y="704.3">-18</tspan><tspan x="33" y="713.4">-19</tspan><tspan x="33" y="722.5">-20</tspan><tspan x="33" y="731.6">-21</tspan><tspan x="33" y="740.8">-22</tspan><tspan x="33" y="749.9">-23</tspan><tspan x="33" y="759">-24</tspan><tspan x="33" y="768.2">-25</tspan><tspan x="33" y="777.3">-26</tspan><tspan x="33" y="786.4">-27</tspan><tspan x="33" y="795.5">-28</tspan><tspan x="33" y="804.7">-29</tspan><tspan x="33" y="813.8">-30</tspan><tspan x="33" y="822.9">-31</tspan><tspan x="33" y="832.1">-32</tspan><tspan x="33" y="841.2">-33</tspan><tspan x="33" y="850.3">-34</tspan><tspan x="33" y="859.4">-35</tspan><tspan x="33" y="868.6">-36</tspan><tspan x="33" y="877.7">-37</tspan><tspan x="33" y="886.8">-38</tspan><tspan x="33" y="895.9">-39</tspan><tspan x="33" y="905.1">-40</tspan><tspan x="33" y="914.2">-41</tspan><tspan x="33" y="923.3">-42</tspan><tspan x="33" y="932.5">-43</tspan><tspan x="33" y="941.6">-44</tspan><tspan x="33" y="950.7">-45</tspan><tspan x="33" y="959.8">-46</tspan><tspan x="33" y="969">-47</tspan><tspan x="33" y="978.1">-48</tspan><tspan x="33" y="987.2">-49</tspan><tspan x="33" y="996.4">-50</tspan><tspan x="33" y="1005.5">-51</tspan><tspan x="33" y="1014.6">-52</tspan></text>
<text><tspan x="1031" y="65.3">52</tspan><tspan x="1031" y="74.4">51</tspan><tspan x="1031" y="83.6">50</tspan><tspan x="1031" y="92.7">49</tspan><tspan x="1031" y="101.8">48</tspan><tspan x="1031" y="110.9">47</tspan><tspan x="1031" y="120.1">46</tspan><tspan x="1031" y="129.2">45</tspan><tspan x="1031" y="138.3">44</tspan><tspan x="1031" y="147.5">43</tspan><tspan x="1031" y="156.6">42</tspan><tspan x="1031" y="165.7">41</tspan><tspan x="1031" y="174.8">40</tspan><tspan x="1031" y="184">39</tspan><tspan x="1031" y="193.1">38</tspan><tspan x="1031" y="202.2">37</tspan><tspan x="1031" y="211.4">36</tspan><tspan x="1031" y="220.5">35</tspan><tspan x="1031" y="229.6">34</tspan><tspan x="1031" y="238.7">33</tspan><tspan x="1031" y="247.9">32</tspan><tspan x="1031" y="257">31</tspan><tspan x="1031" y="266.1">30</tspan><tspan x="1031" y="275.2">29</tspan><tspan x="1031" y="284.4">28</tspan><tspan x="1031" y="293.5">27</tspan><tspan x="1031" y="302.6">26</tspan><tspan x="1031" y="311.8">25</tspan><tspan x="1031" y="320.9">24</tspan><tspan x="1031" y="330">23</tspan><tspan x="1031" y="339.1">22</tspan><tspan x="1031" y="348.3">21</tspan><tspan x="1031" y="357.4">20</tspan><tspan x="1031" y="366.5">19</tspan><tspan x="1031" y="375.7">18</tspan><tspan x="1031" y="384.8">17</tspan><tspan x="1031" y="393.9">16</tspan><tspan x="1031" y="403">15</tspan><tspan x="1031" y="412.2">14</tspan><tspan x="1031" y="421.3">13</tspan><tspan x="1031" y="430.4">12</tspan><tspan x="1031" y="439.6">11</tspan><tspan x="1031" y="448.7">10</tspan><tspan x="1031" y="457.8">9</tspan><tspan x="1031" y="466.9">8</tspan><tspan x="1031" y="476.1">7</tspan><tspan x="1031" y="485.2">6</tspan><tspan x="1031" y="494.3">5</tspan><tspan x="1031" y="503.4">4</tspan><tspan x="1031" y="512.6">3</tspan><tspan x="1031" y="521.7">2</tspan><tspan x="1031" y="530.8">1</tspan><tspan x="1031" y="540">0</tspan><tspan x="1031" y="549.1">-1</tspan><tspan x="1031" y="558.2">-2</tspan><tspan x="1031" y="567.3">-3</tspan><tspan x="1031" y="576.5">-4</tspan><tspan x="1031" y="585.6">-5</tspan><tspan x="1031" y="594.7">-6</tspan><tspan x="1031" y="603.9">-7</tspan><tspan x="1031" y="613">-8</tspan><tspan x="1031" y="622.1">-9</tspan><tspan x="1031" y="631.2">-10</tspan><tspan x="1031" y="640.4">-11</tspan><tspan x="1031" y="649.5">-12</tspan><tspan x="1031" y="658.6">-13</tspan><tspan x="1031" y="667.7">-14</tspan><tspan x="1031" y="676.9">-15</tspan><tspan x="1031" y="686">-16</tspan><tspan x="1031" y="695.1">-17</tspan><tspan x="1031" y="704.3">-18</tspan><tspan x="1031" y="713.4">-19</tspan><tspan x="1031" y="722.5">-20</tspan><tspan x="1031" y="731.6">-21</tspan><tspan x="1031" y="740.8">-22</tspan><tspan x="1031" y="749.9">-23</tspan><tspan x="1031" y="759">-24</tspan><tspan x="1031" y="768.2">-25</tspan><tspan x="1031" y="777.3">-26</tspan><tspan x="1031" y="786.4">-27</tspan><tspan x="1031" y="795.5">-28</tspan><tspan x="1031" y="804.7">-29</tspan><tspan x="1031" y="813.8">-30</tspan><tspan x="1031" y="822.9">-31</tspan><tspan x="1031" y="832.1">-32</tspan><tspan x="1031" y="841.2">-33</tspan><tspan x="1031" y="850.3">-34</tspan><tspan x="1031" y="859.4">-35</tspan><tspan x="1031" y="868.6">-36</tspan><tspan x="1031" y="877.7">-37</tspan><tspan x="1031" y="886.8">-38</tspan><tspan x="1031" y="895.9">-39</tspan><tspan x="1031" y="905.1">-40</tspan><tspan x="1031" y="914.2">-41</tspan><tspan x="1031" y="923.3">-42</tspan><tspan x="1031" y="932.5">-43</tspan><tspan x="1031" y="941.6">-44</tspan><tspan x="1031" y="950.7">-45</tspan><tspan x="1031" y="959.8">-46</tspan><tspan x="1031" y="969">-47</tspan><tspan x="1031" y="978.1">-48</tspan><tspan x="1031" y="987.2">-49</tspan><tspan x="1031" y="996.4">-50</tspan><tspan x="1031" y="1005.5">-51</tspan><tspan x="1031" y="1014.6">-52</tspan></text>
</g>

<g id="axes-arrows">
<polygon class="arr" points="521,73.5 574,127 546.5,127 546.5,512 983,512 983,483 1036,539.5 983,596.5 983,567 546.5,567 546.5,946 573.5,946 521,998 468,946 494.5,946 494.5,567 95,567 95,596.5 37,539.5 95,482.5 95,512 494.5,512 494.5,127 468,127"/>
<text x="524" y="567" text-anchor="middle" font-family="Liberation Sans, Arial, sans-serif" font-size="64" fill="#000">+</text>
<text class="big" x="97" y="550" fill="#ff0000">Getting worse</text>
<text class="big" x="981" y="550" text-anchor="end" fill="#00b050">Getting better</text>
</g>

<g id="callout-rbh"><polygon class="arr" points="544,98 619,98 619,74 667,121 619,165 619,143 544,143"/><text class="al" x="569" y="129" textLength="44" lengthAdjust="spacingAndGlyphs">RBH</text></g>
<g id="callout-leeds"><polygon class="arr" points="792,42 869,42 869,15 915,65 869,115 869,88 792,88"/><text class="al" x="814" y="73" textLength="58" lengthAdjust="spacingAndGlyphs">Leeds</text></g>
<g id="callout-cambridge"><polygon class="arr" points="835,146 880,103 880,125 993,125 993,167 880,167 880,192"/><text class="al" x="870" y="154" textLength="113" lengthAdjust="spacingAndGlyphs">Cambridge</text></g>
<g id="callout-oxford-health"><polygon class="arr" points="118,573 305,573 305,547 348,595 305,638 305,617 118,617"/><text class="al" x="142" y="602" textLength="161" lengthAdjust="spacingAndGlyphs">Oxford Health</text></g>
<g id="callout-ouh"><polygon class="arr" points="300,641 375,641 375,616 423,665 375,712 375,688 300,688"/><text class="al" x="323" y="673" textLength="53" lengthAdjust="spacingAndGlyphs">OUH</text></g>
</svg>
